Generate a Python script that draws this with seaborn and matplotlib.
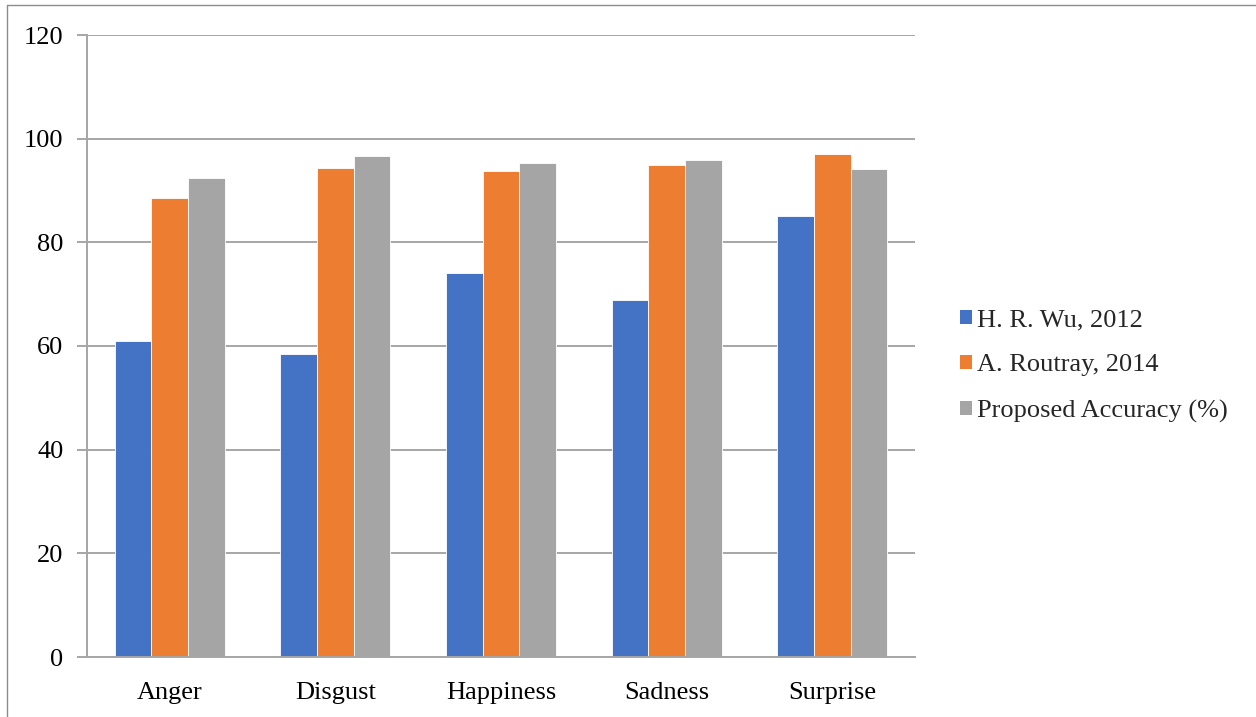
import matplotlib
matplotlib.use("Agg")
import matplotlib.pyplot as plt
from matplotlib.patches import Patch
from matplotlib.lines import Line2D
import seaborn as sns
import pandas as pd

# Recognition accuracy per emotion for each method
emotions = ["Anger", "Disgust", "Happiness", "Sadness", "Surprise"]
wu_2012 = [61.0, 58.5, 74.1, 68.8, 85.1]
routray_2014 = [88.5, 94.3, 93.8, 95.0, 97.0]
proposed = [92.5, 96.6, 95.4, 95.9, 94.1]
series_names = ["H. R. Wu, 2012", "A. Routray, 2014", "Proposed Accuracy (%)"]
y_ticks = [0, 20, 40, 60, 80, 100, 120]

colors = ["#4472C4", "#ED7D31", "#A5A5A5"]

rows = []
for name, vals in zip(series_names, [wu_2012, routray_2014, proposed]):
    for emo, v in zip(emotions, vals):
        rows.append({"Emotion": emo, "Method": name, "Value": v})
df = pd.DataFrame(rows)

sns.set_theme(style="white")
plt.rcParams["font.family"] = ["Liberation Serif", "DejaVu Serif"]

fs = 19

fig = plt.figure(figsize=(12.56, 7.17), dpi=100)
ax = fig.add_axes([87 / 1256, 1 - 657 / 717, (915 - 87) / 1256, (657 - 35) / 717])

sns.barplot(data=df, x="Emotion", y="Value", hue="Method", order=emotions,
            hue_order=series_names, palette=colors, width=0.664,
            edgecolor="white", linewidth=0.6, saturation=1, ax=ax, legend=False)

grid_color = "#a6a6a6"
ax.set_ylim(0, 120)
ax.set_xlim(-0.5, 4.5)
ax.set_yticks(y_ticks)
ax.set_yticklabels([str(t) for t in y_ticks])
ax.yaxis.grid(True, color=grid_color, linewidth=1.4)
ax.set_axisbelow(True)
ax.set_xlabel("")
ax.set_ylabel("")
for side in ["top", "right"]:
    ax.spines[side].set_visible(False)
for side in ["left", "bottom"]:
    ax.spines[side].set_color(grid_color)
    ax.spines[side].set_linewidth(1.4)
ax.tick_params(axis="y", which="major", left=True, length=7, width=1.4,
               color=grid_color, labelsize=fs, pad=10, labelcolor="black")
ax.tick_params(axis="x", bottom=False, labelsize=fs, pad=12, labelcolor="black")

handles = [Patch(facecolor=c, edgecolor="none") for c in colors]
fig.legend(handles, series_names, loc="center left",
           bbox_to_anchor=(947 / 1256, 1 - 366 / 717), frameon=False,
           fontsize=fs, handlelength=0.45, handleheight=0.45,
           handletextpad=0.2, labelspacing=0.87, borderpad=0)

# Outer frame lines along the top and left edges
fig.add_artist(Line2D([7 / 1256, 1], [1 - 5 / 717, 1 - 5 / 717],
                      transform=fig.transFigure, color="#8c8c8c", linewidth=1.0))
fig.add_artist(Line2D([7 / 1256, 7 / 1256], [0, 1 - 5 / 717],
                      transform=fig.transFigure, color="#8c8c8c", linewidth=1.0))

fig.savefig("out.png", dpi=100, facecolor="white")
